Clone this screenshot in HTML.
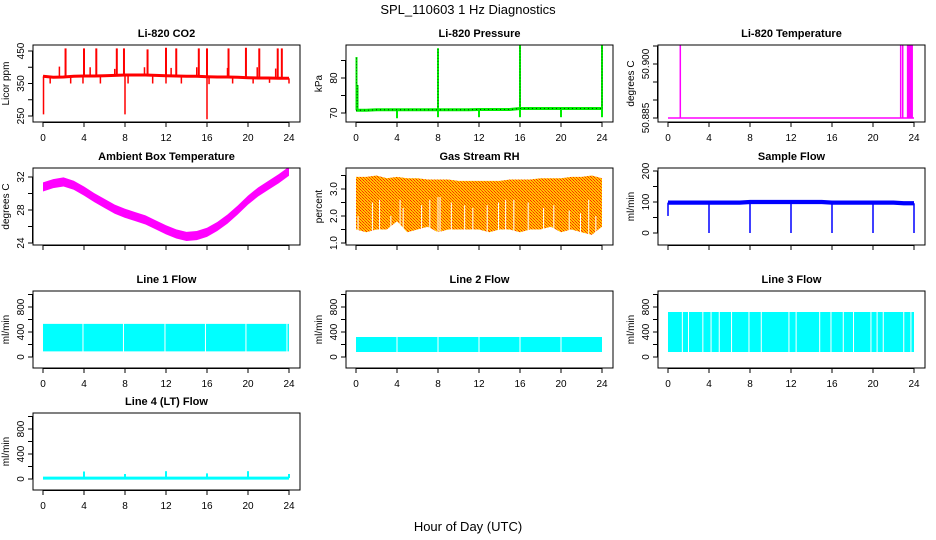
<!DOCTYPE html>
<html><head><meta charset="utf-8"><style>
body{margin:0;background:#fff;}
svg{display:block;font-family:"Liberation Sans",sans-serif;}
</style></head><body>
<svg id="chart" width="936" height="540" viewBox="0 0 936 540" xmlns="http://www.w3.org/2000/svg">
<defs>
<pattern id="rhpat" width="3" height="3" patternUnits="userSpaceOnUse"><rect width="3" height="3" fill="#ffc400"/><rect width="1" height="1" fill="#ff2a00"/><rect x="1" y="1" width="1" height="1" fill="#ff5500"/><rect x="2" y="2" width="1" height="1" fill="#ff2a00"/></pattern>
</defs>
<text x="468" y="14" text-anchor="middle" font-size="13">SPL_110603  1 Hz Diagnostics</text>
<text x="468" y="531" text-anchor="middle" font-size="13">Hour of Day (UTC)</text>
</svg>
<script>
// ---------- data ----------
const xTicks = [0,4,8,12,16,20,24];
const hours = [0,1,2,3,4,5,6,7,8,9,10,11,12,13,14,15,16,17,18,19,20,21,22,23,24];
const co2Base = [372,369,370,372,373,373,374,375,376,376,376,375,374,373,372,372,371,370,370,369,368,367,367,366,366];
const co2SpikeHours = [2.2,4.0,5.2,7.2,7.9,10.2,12.0,13.0,15.2,16.0,18.1,19.8,21.1,22.9,23.3];
const co2SpikeVals = [458,458,458,458,458,455,460,458,458,458,458,460,458,458,458];
const co2BumpHours = [1.6,4.6,7.0,9.9,12.5,15.0,18.0,20.9,22.7];
const co2BumpVals = [402,400,395,400,398,400,398,400,396];
const co2DipHours = [0.05,0.7,2.7,3.9,5.6,8.0,8.3,10.7,12.0,13.5,16.0,16.2,18.5,20.5,22.1,24.0];
const co2DipVals = [255,350,350,350,350,255,350,350,350,350,240,348,350,350,352,350];
const co2Ticks = [250,300,350,400,450];
const co2Labels = [250,350,450];

const presBase = [70.8,70.8,70.9,70.9,70.9,70.9,70.9,70.9,70.9,70.9,70.9,70.9,71.0,71.0,71.0,71.0,71.3,71.3,71.3,71.3,71.3,71.3,71.3,71.3,71.3];
const presSpikeHours = [0.05,0.15,8.0,16.0,24.0];
const presSpikeVals = [86,78,88.5,90,90];
const presDipHours = [4,8,12,16,20,24];
const presDipVals = [68.5,68.8,68.8,68.8,68.8,68.8];
const presTicks = [70,75,80,85];
const presLabels = [70,80];

const tempBase = 50.885;
const tempSpikeHours = [1.2,22.7,22.9,23.45,23.55,23.65,23.75];
const tempTicks = [50.885,50.89,50.895,50.9,50.905];
const tempLabels = [50.885,50.9];

const ambMid = [30.8,31.2,31.4,31.0,30.3,29.5,28.8,28.1,27.6,27.2,26.8,26.2,25.6,25.1,24.8,24.9,25.3,26.0,26.9,28.0,29.2,30.2,31.0,31.8,32.7];
const ambTicks = [24,26,28,30,32];
const ambLabels = [24,28,32];

const rhTop = [3.45,3.45,3.5,3.4,3.45,3.4,3.4,3.35,3.35,3.35,3.3,3.3,3.3,3.3,3.3,3.35,3.35,3.35,3.4,3.4,3.4,3.45,3.45,3.5,3.4];
const rhBot = [1.5,1.4,1.5,1.5,1.8,1.4,1.5,1.6,1.4,1.5,1.5,1.5,1.5,1.4,1.5,1.5,1.4,1.5,1.5,1.6,1.4,1.5,1.4,1.3,1.6];
const rhGapHours = [0.2,1.6,2.3,3.4,4.3,4.6,6.4,7.2,8.0,8.2,9.3,10.6,11.4,12.8,13.9,14.6,15.4,16.8,18.3,19.3,20.8,21.9,22.7,23.4];
const rhGapVals = [2.0,2.5,2.6,2.0,2.6,2.3,2.4,2.6,2.7,2.7,2.5,2.4,2.3,2.4,2.5,2.6,2.6,2.5,2.3,2.4,2.2,2.1,2.6,2.0];
const rhTicks = [1.0,1.5,2.0,2.5,3.0,3.5];
const rhLabels = [1.0,2.0,3.0];

const sfBase = [98,98,98,98,98,98,98,98,100,100,100,100,100,100,100,100,98,98,98,98,98,98,98,96,96];
const sfDipHours = [0.0,4,8,12,16,20,24];
const sfDipVals = [55,0,0,0,0,0,0];
const sfTicks = [0,50,100,150,200];
const sfLabels = [0,100,200];

const flowTicks = [0,200,400,600,800,1000];
const flowLabels = [0,400,800];
const l1Top = 530, l1Bot = 90;
const l1Gaps = [3.9,7.85,11.9,15.85,19.8,23.8];
const l2Top = 320, l2Bot = 80;
const l2Gaps = [4.0,8.0,12.0,16.0,20.0];
const l3Top = 720, l3Bot = 80;
const l3Gaps = [1.4,2.0,3.4,4.2,5.0,6.2,7.9,9.1,11.8,12.5,14.8,15.9,17.1,18.1,19.8,20.4,21.0,23.0,23.7];
const l4Base = 15;
const l4SpikeHours = [4,8,12,16,20,24];
const l4SpikeVals = [120,80,125,90,125,80];

// ---------- layout ----------
const NS = 'http://www.w3.org/2000/svg';
const svg = document.getElementById('chart');
const colL = [33,346,658], rowT = [45,168,291,413], PW = 267, PH = 77;
function mk(tag, attrs, parent){const e=document.createElementNS(NS,tag);for(const k in attrs)e.setAttribute(k,attrs[k]);(parent||svg).appendChild(e);return e;}

function panel(name, title, col, row, v1, p1, v2, p2, ylab, ticks, labels, fmt, showX){
  const L=colL[col], T=rowT[row];
  const g = mk('g',{});
  
  
  const xs = h => L+10+h*(246/24);
  const ys = v => T+p1+(v-v1)*(p2-p1)/(v2-v1);
  const t = mk('text',{x:L+PW/2,y:T-8,'text-anchor':'middle','font-size':11,'font-weight':'bold'},g);
  t.textContent = title;
  
  
  const clipId = name+'-clip';
  const cp = mk('clipPath',{id:clipId},g);
  mk('rect',{x:L,y:T,width:PW,height:PH},cp);
  const plot = mk('g',{'clip-path':'url(#'+clipId+')'},g);
  
  
  const box = mk('rect',{x:L,y:T,width:PW,height:PH,fill:'none',stroke:'#000','stroke-width':1},g);
  
  
  const xa = mk('g',{stroke:'#000','stroke-width':1},g);
  
  
  mk('line',{x1:xs(0),x2:xs(24),y1:T+PH+0.5,y2:T+PH+0.5},xa);
  xTicks.forEach(h=>{
    mk('line',{x1:xs(h),x2:xs(h),y1:T+PH,y2:T+PH+5},xa);
    if(showX){const tx=mk('text',{x:xs(h),y:T+PH+19,'text-anchor':'middle','font-size':10,stroke:'none'},xa);tx.textContent=h;}
  });
  const ya = mk('g',{stroke:'#000','stroke-width':1},g);
  
  
  mk('line',{x1:L-0.5,x2:L-0.5,y1:ys(ticks[0]),y2:ys(ticks[ticks.length-1])},ya);
  ticks.forEach(v=>mk('line',{x1:L-5,x2:L,y1:ys(v),y2:ys(v)},ya));
  labels.forEach(v=>{const y=ys(v);const tx=mk('text',{x:L-9,y:y,'text-anchor':'middle','font-size':10,stroke:'none',transform:'rotate(-90 '+(L-9)+' '+y+')'},ya);tx.textContent=fmt(v);});
  const yt = mk('text',{x:L-24,y:T+PH/2,'text-anchor':'middle','font-size':10,transform:'rotate(-90 '+(L-24)+' '+(T+PH/2)+')'},g);
  yt.textContent = ylab;
  
  
  return {xs, ys, g:plot};
}
function poly(p, pts, attrs){return mk('polyline',Object.assign({points:pts.map(q=>q[0].toFixed(1)+','+q[1].toFixed(1)).join(' '),fill:'none'},attrs),p.g);}
function vline(p, h, v1, v2, col, w){return mk('line',{x1:p.xs(h),x2:p.xs(h),y1:p.ys(v1),y2:p.ys(v2),stroke:col,'stroke-width':w||1},p.g);}
function bandPts(p, top, bot){const up=hours.map((h,i)=>[p.xs(h),p.ys(top[i])]);const dn=hours.map((h,i)=>[p.xs(h),p.ys(bot[i])]).reverse();return up.concat(dn);}

// CO2
const pc = panel('co2-panel','Li-820 CO2',0,0,250,71,450,6,'Licor ppm',co2Ticks,co2Labels,v=>v,true);
co2SpikeHours.forEach((h,i)=>{const l=vline(pc,h,co2Base[Math.round(h)],co2SpikeVals[i],'#f00',2);});
co2BumpHours.forEach((h,i)=>vline(pc,h,co2Base[Math.round(h)],co2BumpVals[i],'#f00',1.5));
co2DipHours.forEach((h,i)=>vline(pc,h,co2Base[Math.round(h)],co2DipVals[i],'#f00',1.5));
const co2Line = poly(pc, hours.map((h,i)=>[pc.xs(h),pc.ys(co2Base[i])]), {stroke:'#f00','stroke-width':3});


// Pressure
const pp = panel('pressure-panel','Li-820 Pressure',1,0,70,68,80,33,'kPa',presTicks,presLabels,v=>v,true);
presSpikeHours.forEach((h,i)=>{vline(pp,h,presBase[Math.round(h)],presSpikeVals[i],'#0e0',2);vline(pp,h,presBase[Math.round(h)],presSpikeVals[i],'#000',0.6).setAttribute('stroke-dasharray','1,2');});
presDipHours.forEach((h,i)=>vline(pp,h,presBase[Math.round(h)],presDipVals[i],'#0e0',2));
const presLine = poly(pp, hours.map((h,i)=>[pp.xs(h),pp.ys(presBase[i])]), {stroke:'#0e0','stroke-width':3});

poly(pp, hours.map((h,i)=>[pp.xs(h),pp.ys(presBase[i])]), {stroke:'#000','stroke-width':0.8,'stroke-dasharray':'1,3'});

// Li-820 temperature
const pt = panel('li820-temperature-panel','Li-820 Temperature',2,0,50.885,73,50.9,19,'degrees C',tempTicks,tempLabels,v=>v.toFixed(3),true);
const tl = poly(pt, [[pt.xs(0),pt.ys(tempBase)],[pt.xs(24),pt.ys(tempBase)]], {stroke:'#f0f','stroke-width':1.5});

tempSpikeHours.forEach(h=>vline(pt,h,tempBase,50.92,'#f0f',h>23.4?3:1.5));

// Ambient
const pa = panel('ambient-temperature-panel','Ambient Box Temperature',0,1,24,75,32,9,'degrees C',ambTicks,ambLabels,v=>v,false);
const ab = mk('polygon',{points:bandPts(pa,ambMid.map(v=>v+0.55),ambMid.map(v=>v-0.55)).map(q=>q.join(',')).join(' '),fill:'#f0f'},pa.g);


// RH
const pr = panel('gas-stream-rh-panel','Gas Stream RH',1,1,1.0,75,3.0,21,'percent',rhTicks,rhLabels,v=>v.toFixed(1),false);
const rb = mk('polygon',{points:bandPts(pr,rhTop,rhBot).map(q=>q.join(',')).join(' '),fill:'url(#rhpat)'},pr.g);

rhGapHours.forEach((h,i)=>vline(pr,h,1.0,rhGapVals[i],'#fff',1));

// Sample flow
const ps = panel('sample-flow-panel','Sample Flow',2,1,0,65,200,3,'ml/min',sfTicks,sfLabels,v=>v,false);
const sb = mk('polygon',{points:bandPts(ps,sfBase.map(v=>v+7),sfBase.map(v=>v-7)).map(q=>q.join(',')).join(' '),fill:'#00f'},ps.g);

sfDipHours.forEach((h,i)=>vline(ps,h,sfBase[Math.round(h)],sfDipVals[i],'#00f',1.5));

// Line flows
function flowPanel(name,title,col,row,top,bot,gaps,showX){
  const p = panel(name,title,col,row,0,66,800,16,'ml/min',flowTicks,flowLabels,v=>v,showX);
  const r = mk('rect',{x:p.xs(0),y:p.ys(top),width:p.xs(24)-p.xs(0),height:p.ys(bot)-p.ys(top),fill:'#0ff'},p.g);
  
  gaps.forEach(h=>vline(p,h,bot-5,top+10,'#fff',1));
  return p;
}
flowPanel('line1-flow-panel','Line 1 Flow',0,2,l1Top,l1Bot,l1Gaps,true);
flowPanel('line2-flow-panel','Line 2 Flow',1,2,l2Top,l2Bot,l2Gaps,true);
flowPanel('line3-flow-panel','Line 3 Flow',2,2,l3Top,l3Bot,l3Gaps,true);
const p4 = panel('line4-flow-panel','Line 4 (LT) Flow',0,3,0,66,800,16,'ml/min',flowTicks,flowLabels,v=>v,true);
const l4 = poly(p4, [[p4.xs(0),p4.ys(l4Base)],[p4.xs(24),p4.ys(l4Base)]], {stroke:'#0ff','stroke-width':3});

l4SpikeHours.forEach((h,i)=>vline(p4,h,l4Base,l4SpikeVals[i],'#0ff',2));
</script>
</body></html>
